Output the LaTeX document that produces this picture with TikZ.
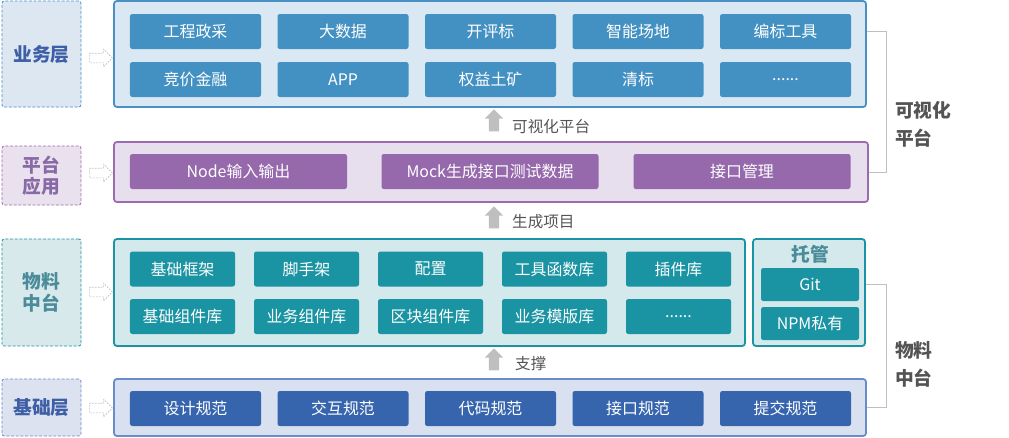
\documentclass[tikz,border=0pt]{standalone}
\usepackage{fontspec}
\setmainfont{Noto Sans CJK SC}
\usetikzlibrary{shapes.arrows}
\definecolor{bizfill}{HTML}{DAE8F3}
\definecolor{bizline}{HTML}{4A90C4}
\definecolor{bizcell}{HTML}{4391C2}
\definecolor{bizside}{HTML}{DDE7F1}
\definecolor{platfill}{HTML}{E8DFEE}
\definecolor{platline}{HTML}{9A6CAE}
\definecolor{platcell}{HTML}{9669AC}
\definecolor{platside}{HTML}{E9E2EE}
\definecolor{platink}{HTML}{8A6AA6}
\definecolor{matfill}{HTML}{D3E9EC}
\definecolor{matline}{HTML}{1A93A3}
\definecolor{matcell}{HTML}{1A93A3}
\definecolor{matside}{HTML}{D8E9EC}
\definecolor{matink}{HTML}{4B8B9A}
\definecolor{basefill}{HTML}{D9E1F0}
\definecolor{baseline}{HTML}{6A8CCB}
\definecolor{basecell}{HTML}{3665AE}
\definecolor{baseside}{HTML}{DCE2F0}
\definecolor{layerink}{HTML}{3E5FA6}
\colorlet{mygray}{black!25}
\colorlet{myink}{black!67}

\begin{document}
\begin{tikzpicture}[x=0.03cm,y=-0.03cm]
\useasboundingbox (0,0) rectangle (1009,437);
\tikzset{
  LayerStyle/.style ={draw, line width=1.5pt, rounded corners=2.5pt, inner sep=0},
  SideStyle/.style ={draw, line width=0.7pt, dash pattern=on 2.5pt off 1.5pt, rounded corners=2pt,
    align=center, inner sep=0, minimum width=2.37cm, font=\fontsize{16}{18.3}\selectfont\bfseries},
  HollowStyle/.style ={single arrow, draw=mygray, line width=0.5pt, dash pattern=on 1.5pt off 1pt,
    fill=white, inner sep=0.135cm, single arrow head extend=0.12cm, single arrow tip angle=90,
    single arrow head indent=0, minimum height=0.69cm},
  UpStyle/.style ={single arrow, fill=mygray, rotate=90, inner sep=0.15cm, single arrow head extend=0.12cm,
    single arrow tip angle=90, single arrow head indent=0, minimum height=0.66cm},
  NoteStyle/.style ={anchor=west, text=myink, inner sep=0, font=\fontsize{13.3}{16}\selectfont},
  TitleStyle/.style ={anchor=west, align=left, text=myink, inner sep=0, font=\fontsize{16}{23.8}\selectfont\bfseries},
  BracketStyle/.style ={draw=mygray, line width=0.8pt}
}
% side labels
\node[SideStyle, draw=bizline, fill=bizside, text=layerink, minimum height=3.18cm] (sbiz) at (41.5,54) {业务层};
\node[SideStyle, draw=platline, fill=platside, text=platink, minimum height=1.77cm] (splat) at (41.5,175.5) {平台\\应用};
\node[SideStyle, draw=matline, fill=matside, text=matink, minimum height=3.21cm] (smat) at (41.5,292.5) {物料\\中台};
\node[SideStyle, draw=baseline, fill=baseside, text=layerink, minimum height=1.71cm] (sbase) at (41.5,407.5) {基础层};
\node[HollowStyle] (h1) at (98.5,58) {};
\node[HollowStyle] (h2) at (98.5,173) {};
\node[HollowStyle] (h3) at (98.5,292) {};
\node[HollowStyle] (h4) at (98.5,408) {};
% business layer
\node[LayerStyle, draw=bizline, fill=bizfill, minimum width=22.56cm, minimum height=3.18cm] (biz) at (490,54) {};
\tikzset{CellStyle/.style ={fill=bizcell, text=white, rounded corners=2pt, inner sep=0,
  minimum width=3.93cm, minimum height=1.05cm, font=\fontsize{13.6}{16}\selectfont}}
\node[CellStyle] (biz1) at (195.5,31.5) {工程政采};
\node[CellStyle] (biz2) at (343,31.5) {大数据};
\node[CellStyle] (biz3) at (490.5,31.5) {开评标};
\node[CellStyle] (biz4) at (638,31.5) {智能场地};
\node[CellStyle] (biz5) at (785.5,31.5) {编标工具};
\node[CellStyle] (biz6) at (195.5,79.5) {竞价金融};
\node[CellStyle] (biz7) at (343,79.5) {APP};
\node[CellStyle] (biz8) at (490.5,79.5) {权益土矿};
\node[CellStyle] (biz9) at (638,79.5) {清标};
\node[CellStyle] (biz10) at (785.5,79.5) {......};
% platform layer
\node[LayerStyle, draw=platline, fill=platfill, minimum width=22.62cm, minimum height=1.8cm] (plat) at (491,172) {};
\tikzset{CellStyle/.style ={fill=platcell, text=white, rounded corners=2pt, inner sep=0,
  minimum width=6.51cm, minimum height=1.05cm, font=\fontsize{13.6}{16}\selectfont}}
\node[CellStyle] (plat1) at (238.5,171.5) {Node输入输出};
\node[CellStyle] (plat2) at (490,171.5) {Mock生成接口测试数据};
\node[CellStyle] (plat3) at (742,171.5) {接口管理};
% material layer
\node[LayerStyle, draw=matline, fill=matfill, minimum width=18.93cm, minimum height=3.21cm] (mat) at (429.5,292.5) {};
\node[LayerStyle, draw=matline, fill=matfill, minimum width=3.36cm, minimum height=3.21cm] (host) at (809,292.5) {};
\tikzset{CellStyle/.style ={fill=matcell, text=white, rounded corners=2pt, inner sep=0,
  minimum width=3.15cm, minimum height=1.05cm, font=\fontsize{13.6}{16}\selectfont}}
\node[CellStyle] (mat1) at (182.5,269) {基础框架};
\node[CellStyle] (mat2) at (306.5,269) {脚手架};
\node[CellStyle] (mat3) at (430.5,269) {配置};
\node[CellStyle] (mat4) at (554.5,269) {工具函数库};
\node[CellStyle] (mat5) at (678.5,269) {插件库};
\node[CellStyle] (mat6) at (182.5,316.5) {基础组件库};
\node[CellStyle] (mat7) at (306.5,316.5) {业务组件库};
\node[CellStyle] (mat8) at (430.5,316.5) {区块组件库};
\node[CellStyle] (mat9) at (554.5,316.5) {业务模版库};
\node[CellStyle] (mat10) at (678.5,316.5) {......};
\node[text=matink, inner sep=0, font=\fontsize{16}{18}\selectfont\bfseries] (hosttitle) at (810,254) {托管};
\tikzset{CellStyle/.style ={fill=matcell, text=white, rounded corners=2pt, inner sep=0,
  minimum width=2.94cm, minimum height=0.99cm, font=\fontsize{13.6}{16}\selectfont}}
\node[CellStyle] (git) at (810,284.5) {Git};
\node[CellStyle] (npm) at (810,323.5) {NPM私有};
% base layer
\node[LayerStyle, draw=baseline, fill=basefill, minimum width=22.56cm, minimum height=1.71cm] (base) at (490,407.5) {};
\tikzset{CellStyle/.style ={fill=basecell, text=white, rounded corners=2pt, inner sep=0,
  minimum width=3.93cm, minimum height=1.05cm, font=\fontsize{13.6}{16}\selectfont}}
\node[CellStyle] (base1) at (195.5,408.5) {设计规范};
\node[CellStyle] (base2) at (343,408.5) {交互规范};
\node[CellStyle] (base3) at (490.5,408.5) {代码规范};
\node[CellStyle] (base4) at (638,408.5) {接口规范};
\node[CellStyle] (base5) at (785.5,408.5) {提交规范};
% arrows between layers
\node[UpStyle] (up1) at (494,123) {};
\node[UpStyle] (up2) at (494,220) {};
\node[UpStyle] (up3) at (494,362) {};
\node[NoteStyle] (note1) at (512,127) {可视化平台};
\node[NoteStyle] (note2) at (512,222) {生成项目};
\node[NoteStyle] (note3) at (515,364) {支撑};
% brackets on the right
\draw[BracketStyle] (biz5 -| biz.east) -- ++(20,0) |- (plat.east);
\draw[BracketStyle] (git -| host.east) -- ++(21,0) |- (base.east);
\node[TitleStyle] (viz) at (895,124) {可视化\\平台};
\node[TitleStyle] (mid) at (895,364) {物料\\中台};
\end{tikzpicture}
\end{document}
